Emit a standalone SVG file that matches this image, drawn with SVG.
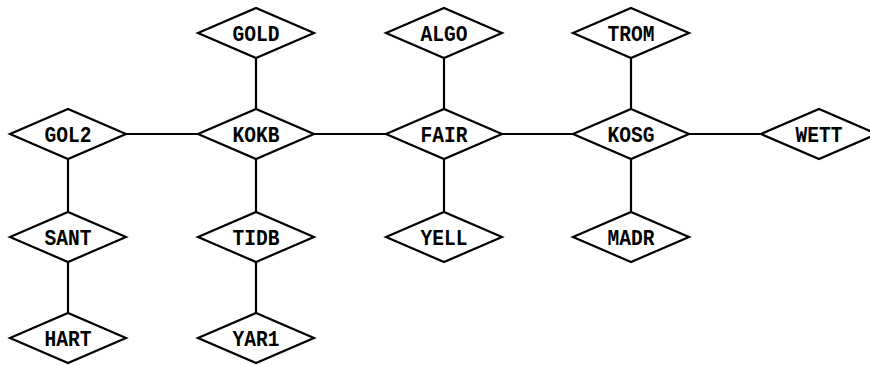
<svg xmlns="http://www.w3.org/2000/svg" width="870" height="365" viewBox="0 0 870 365">
  <style>
    .node polygon { fill: #fff; stroke: #000; stroke-width: 2.2; stroke-linejoin: miter; }
    .node text { font-family: "Liberation Mono", "DejaVu Sans Mono", monospace; font-size: 22px; font-weight: bold; text-anchor: middle; fill: #000; }
    .links line { stroke: #000; stroke-width: 2.2; }
  </style>

  <g class="links">
    <!-- horizontal backbone -->
    <line x1="126" y1="134" x2="198" y2="134"/>
    <line x1="314" y1="134" x2="386" y2="134"/>
    <line x1="502" y1="134" x2="573" y2="134"/>
    <line x1="689" y1="134" x2="761" y2="134"/>
    <!-- verticals -->
    <line x1="68" y1="159" x2="68" y2="212"/>
    <line x1="68" y1="262" x2="68" y2="313"/>
    <line x1="256" y1="58" x2="256" y2="109"/>
    <line x1="256" y1="159" x2="256" y2="212"/>
    <line x1="256" y1="262" x2="256" y2="313"/>
    <line x1="444" y1="58" x2="444" y2="109"/>
    <line x1="444" y1="159" x2="444" y2="212"/>
    <line x1="631" y1="58" x2="631" y2="109"/>
    <line x1="631" y1="159" x2="631" y2="212"/>
  </g>

  <g id="GOL2" class="node" transform="translate(68,134)"><polygon points="-58,0 0,-25 58,0 0,25"/><text y="7.5" textLength="47" lengthAdjust="spacingAndGlyphs">GOL2</text></g>
  <g id="SANT" class="node" transform="translate(68,237)"><polygon points="-58,0 0,-25 58,0 0,25"/><text y="7.5" textLength="47" lengthAdjust="spacingAndGlyphs">SANT</text></g>
  <g id="HART" class="node" transform="translate(68,338)"><polygon points="-58,0 0,-25 58,0 0,25"/><text y="7.5" textLength="47" lengthAdjust="spacingAndGlyphs">HART</text></g>
  <g id="GOLD" class="node" transform="translate(256,33)"><polygon points="-58,0 0,-25 58,0 0,25"/><text y="7.5" textLength="47" lengthAdjust="spacingAndGlyphs">GOLD</text></g>
  <g id="KOKB" class="node" transform="translate(256,134)"><polygon points="-58,0 0,-25 58,0 0,25"/><text y="7.5" textLength="47" lengthAdjust="spacingAndGlyphs">KOKB</text></g>
  <g id="TIDB" class="node" transform="translate(256,237)"><polygon points="-58,0 0,-25 58,0 0,25"/><text y="7.5" textLength="47" lengthAdjust="spacingAndGlyphs">TIDB</text></g>
  <g id="YAR1" class="node" transform="translate(256,338)"><polygon points="-58,0 0,-25 58,0 0,25"/><text y="7.5" textLength="47" lengthAdjust="spacingAndGlyphs">YAR1</text></g>
  <g id="ALGO" class="node" transform="translate(444,33)"><polygon points="-58,0 0,-25 58,0 0,25"/><text y="7.5" textLength="47" lengthAdjust="spacingAndGlyphs">ALGO</text></g>
  <g id="FAIR" class="node" transform="translate(444,134)"><polygon points="-58,0 0,-25 58,0 0,25"/><text y="7.5" textLength="47" lengthAdjust="spacingAndGlyphs">FAIR</text></g>
  <g id="YELL" class="node" transform="translate(444,237)"><polygon points="-58,0 0,-25 58,0 0,25"/><text y="7.5" textLength="47" lengthAdjust="spacingAndGlyphs">YELL</text></g>
  <g id="TROM" class="node" transform="translate(631,33)"><polygon points="-58,0 0,-25 58,0 0,25"/><text y="7.5" textLength="47" lengthAdjust="spacingAndGlyphs">TROM</text></g>
  <g id="KOSG" class="node" transform="translate(631,134)"><polygon points="-58,0 0,-25 58,0 0,25"/><text y="7.5" textLength="47" lengthAdjust="spacingAndGlyphs">KOSG</text></g>
  <g id="MADR" class="node" transform="translate(631,237)"><polygon points="-58,0 0,-25 58,0 0,25"/><text y="7.5" textLength="47" lengthAdjust="spacingAndGlyphs">MADR</text></g>
  <g id="WETT" class="node" transform="translate(819,134)"><polygon points="-58,0 0,-25 58,0 0,25"/><text y="7.5" textLength="47" lengthAdjust="spacingAndGlyphs">WETT</text></g>
</svg>
